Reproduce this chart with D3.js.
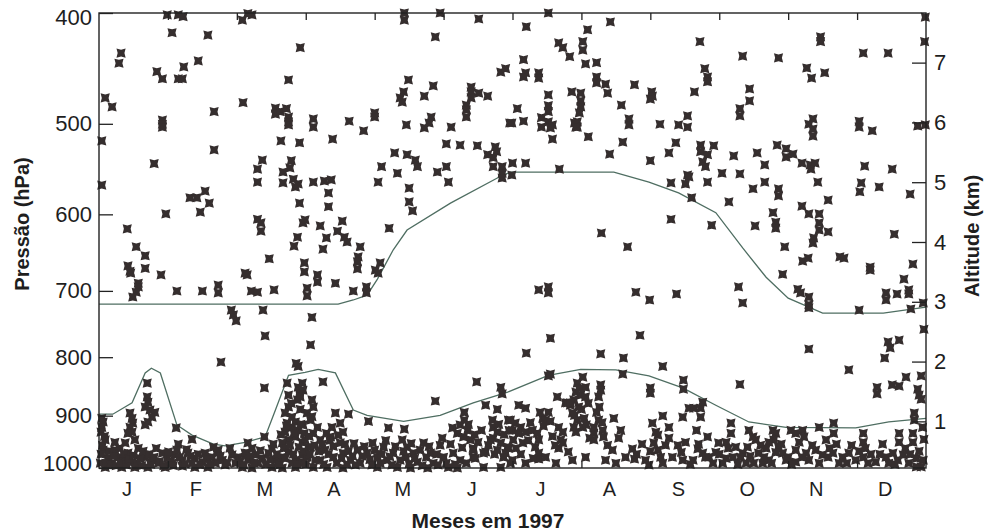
<!DOCTYPE html>
<html>
<head>
<meta charset="utf-8">
<title>Pressão x meses 1997</title>
<style>
  body { margin: 0; background: #fff; }
  svg { display: block; }
  .tick text { font-family: "Liberation Sans", Arial, sans-serif; fill: #1e1e1e; }
  .titulo { font-family: "Liberation Sans", Arial, sans-serif; font-weight: bold; fill: #1e1e1e; }
</style>
</head>
<body>
<div class="grafico"></div>
<script src="https://cdn.jsdelivr.net/npm/d3@7"></script>
<script>
// meses (eixo x em meses decorridos desde 1 jan 1997)
const meses = ["J", "F", "M", "A", "M", "J", "J", "A", "S", "O", "N", "D"];
const ticksPressao = [400, 500, 600, 700, 800, 900, 1000];
const ticksAltitude = [1, 2, 3, 4, 5, 6, 7];

// linhas: [mes, altitude km]
const linhaSuperior = [
  [0, 2.96], [3.47, 2.96], [3.69, 3.03], [3.89, 3.11], [4.04, 3.38], [4.27, 3.87], [4.47, 4.20],
  [5.10, 4.65], [5.78, 5.07], [5.97, 5.17], [7.47, 5.17], [7.98, 5.00], [8.41, 4.82], [8.95, 4.49],
  [9.34, 3.90], [9.68, 3.41], [10.00, 3.06], [10.50, 2.81], [11.38, 2.81], [12, 2.91]
];
const linhaInferior = [
  [0, 1.12], [0.20, 1.12], [0.48, 1.31], [0.67, 1.81], [0.76, 1.89], [0.89, 1.81], [1.13, 0.94],
  [1.35, 0.77], [1.66, 0.62], [1.83, 0.59], [2.12, 0.65], [2.41, 0.74], [2.56, 1.19], [2.75, 1.77],
  [2.99, 1.82], [3.18, 1.87], [3.43, 1.81], [3.69, 1.19], [3.89, 1.10], [4.42, 1.00], [4.95, 1.10],
  [5.43, 1.31], [5.93, 1.49], [6.52, 1.77], [6.99, 1.87], [7.50, 1.86], [7.98, 1.76], [8.47, 1.56],
  [8.95, 1.27], [9.43, 0.99], [9.97, 0.90], [10.98, 0.89], [11.46, 0.99], [12, 1.05]
];

// sondagens: [mes, altitude km]
const pontosSuperiores = [
  [0.99,7.80],[1.15,7.80],[1.22,7.77],[2.08,7.71],[2.22,7.80],[2.16,7.82],[1.06,7.50],[1.58,7.46],[0.32,7.16],[0.29,6.99],
  [1.44,7.03],[1.23,6.93],[0.84,6.85],[0.92,6.73],[1.15,6.73],[1.21,6.73],[2.92,7.25],[2.75,6.71],[0.09,6.41],[0.19,6.26],
  [2.09,6.33],[1.67,6.18],[2.56,6.24],[2.56,6.14],[2.63,6.18],[2.72,6.23],[2.75,6.09],[2.75,6.01],[2.75,5.96],[0.92,6.04],
  [0.92,5.97],[0.92,5.92],[0.04,5.69],[2.64,5.69],[2.91,5.66],[1.67,5.54],[2.37,5.37],[2.79,5.36],[2.77,5.24],[2.30,5.22],
  [2.67,5.17],[0.80,5.31],[2.30,5.00],[2.67,4.99],[2.82,5.05],[2.85,4.92],[2.89,4.97],[0.04,4.95],[1.54,4.85],[1.32,4.74],
  [1.42,4.74],[1.60,4.65],[2.91,4.65],[1.47,4.50],[0.97,4.47],[2.30,4.38],[2.35,4.32],[2.35,4.18],[2.96,4.32],[0.41,4.22],
  [2.88,4.08],[2.83,3.93],[0.54,3.92],
  [0.67,3.77],[0.42,3.60],[0.45,3.51],[0.46,3.48],[0.67,3.56],[0.90,3.45],[0.57,3.31],[0.57,3.25],[0.54,3.16],[0.49,3.08],
  [1.13,3.18],[1.50,3.18],[1.73,3.28],[1.73,3.15],[2.12,3.48],[2.15,3.45],[2.21,3.18],[2.30,3.16],[2.47,3.72],[2.54,3.20],
  [2.98,3.65],[2.98,3.50],[1.92,2.86],[1.95,2.78],[1.99,2.68],[2.38,2.86],[2.41,2.43],[1.77,1.99],[2.40,1.56],[2.89,1.92],[2.86,1.97],
  [4.43,7.83],[4.43,7.71],[4.95,7.83],[5.51,7.73],[4.88,7.43],[5.83,6.84],[5.90,6.90],[4.49,6.71],[4.85,6.61],[4.42,6.51],
  [4.37,6.41],[4.40,6.34],[4.72,6.44],[5.40,6.59],[5.40,6.51],[5.40,6.41],[5.51,6.49],[5.64,6.44],[5.33,6.29],[5.33,6.21],
  [5.33,6.09],[3.11,6.06],[3.11,5.92],[3.63,6.02],[4.00,6.16],[4.00,6.09],[3.84,5.86],[4.46,5.96],[4.82,6.09],[4.79,5.99],
  [4.72,5.91],[5.11,5.92],[5.96,5.99],[3.39,5.72],[5.04,5.64],[5.24,5.62],[5.49,5.61],[5.75,5.59],[5.77,5.51],[5.64,5.46],
  [5.72,5.41],[5.72,5.26],[5.85,5.26],[5.85,5.15],[5.85,5.07],[4.29,5.49],[4.47,5.46],[4.59,5.37],[4.62,5.26],[4.10,5.26],
  [4.33,5.15],[4.91,5.17],[5.04,5.26],[5.07,5.00],[4.05,5.00],[3.11,5.00],[3.27,5.02],[3.37,5.04],[3.33,4.82],[4.50,4.90],
  [3.33,4.59],[4.50,4.67],[4.55,4.52],[2.99,4.37],[3.21,4.27],[3.53,4.35],[3.46,4.18],[3.56,4.08],[3.60,4.00],[3.30,4.07],
  [3.79,3.92],[4.21,4.23],[3.25,3.88],
  [3.76,3.75],[3.75,3.67],[3.75,3.55],[4.08,3.65],[4.01,3.53],[4.05,3.48],[3.17,3.45],[3.17,3.33],[3.43,3.31],[3.69,3.18],
  [3.88,3.25],[3.88,3.15],[3.02,3.23],[3.02,3.10],[3.09,2.74],[3.07,2.28],[3.25,1.66],[5.48,1.66],[4.88,1.34],
  [6.52,7.83],[7.42,7.68],[6.20,7.60],[7.09,7.55],[6.67,7.33],[6.73,7.25],[7.02,7.35],[7.02,7.21],[6.83,7.10],[8.72,7.35],
  [6.16,7.05],[7.06,6.98],[7.22,7.00],[6.19,6.83],[6.16,6.76],[6.38,6.83],[6.38,6.74],[7.22,6.76],[7.22,6.66],[7.35,6.64],
  [7.38,6.49],[7.77,6.63],[8.79,6.90],[8.83,6.76],[8.83,6.68],[8.64,6.51],[8.02,6.51],[8.03,6.44],[8.00,6.39],[6.86,6.51],
  [6.99,6.49],[6.99,6.36],[6.99,6.26],[6.97,6.16],[6.94,6.01],[6.94,5.92],[6.52,6.46],[6.52,6.28],[6.52,6.18],[7.58,6.29],
  [6.07,6.23],[5.99,5.99],[6.16,6.02],[6.42,6.08],[6.42,5.92],[6.52,6.01],[6.58,5.96],[6.55,5.91],[6.90,5.99],[6.92,5.92],
  [6.58,5.72],[7.10,5.76],[7.69,6.06],[7.69,5.96],[8.14,5.97],[8.41,5.96],[8.54,5.92],[8.54,6.11],[7.60,5.67],[8.37,5.66],
  [8.27,5.49],[7.41,5.47],[8.73,5.62],[8.73,5.51],[8.83,5.46],[8.92,5.61],[8.76,5.34],[8.80,5.26],[8.00,5.36],[6.00,5.32],
  [6.19,5.32],[5.99,5.12],[6.68,5.22],[8.54,5.12],[8.56,5.09],[8.30,4.99],[8.51,4.97],[8.83,5.00],[8.60,4.74],[8.30,4.38],
  [8.89,4.28],[7.29,4.15],[7.67,3.92],
  [6.38,3.20],[6.52,3.25],[6.52,3.15],[7.79,3.16],[7.99,3.03],[8.38,3.13],[6.55,2.39],[7.85,2.44],[6.20,2.14],[7.28,2.13],
  [7.61,2.06],[8.18,1.92],[7.60,1.79],[6.52,1.76],[6.55,1.79],[8.48,1.69],[8.48,1.54],[8.00,1.56],[8.00,1.47],
  [11.99,7.76],[11.98,7.35],[10.47,7.43],[10.47,7.35],[9.34,7.11],[9.86,7.08],[11.09,7.16],[11.45,7.16],[10.27,6.91],[10.34,6.74],
  [10.53,6.83],[9.44,6.56],[9.44,6.36],[9.30,6.23],[9.30,6.11],[10.36,6.06],[10.30,5.97],[10.36,5.89],[10.36,5.77],[11.03,6.02],
  [11.03,5.92],[11.22,5.86],[11.88,5.94],[11.99,5.96],[9.84,5.62],[9.97,5.56],[9.97,5.42],[10.07,5.47],[9.21,5.44],[9.55,5.49],
  [10.20,5.32],[10.32,5.29],[10.33,5.22],[10.39,5.32],[9.66,5.29],[9.04,5.15],[9.30,5.14],[11.11,5.27],[11.51,5.22],[9.66,5.00],
  [10.43,5.00],[9.49,4.89],[9.86,4.89],[9.86,4.77],[11.06,4.99],[11.04,4.84],[11.32,4.92],[11.77,4.80],[9.14,4.67],[10.58,4.70],
  [10.20,4.60],[9.78,4.49],[10.30,4.47],[10.45,4.47],[9.82,4.33],[9.82,4.23],[9.52,4.27],[10.45,4.32],[10.45,4.20],[10.37,4.07],
  [10.36,3.98],[10.58,4.17],[11.54,4.13],[9.95,3.92],
  [10.21,3.68],[10.29,3.73],[10.75,3.75],[10.81,3.73],[11.19,3.58],[11.19,3.53],[11.81,3.63],[9.92,3.46],[11.68,3.38],[9.28,3.25],
  [9.34,2.98],[10.14,3.21],[10.18,3.15],[10.30,3.08],[10.30,2.95],[10.30,2.90],[11.42,3.15],[11.42,3.03],[11.58,3.13],[11.75,3.20],
  [11.75,3.13],[11.96,2.98],[11.03,2.86],[11.78,2.88],[11.97,2.54],[11.45,2.33],[11.48,2.23],[11.61,2.36],[11.40,2.06],[10.30,2.21],
  [10.88,1.86],[11.71,1.74],[11.93,1.76],[11.51,1.61],[11.61,1.59],[11.29,1.57],[11.29,1.46],[11.88,1.54],[11.90,1.44],[11.93,1.37],
  [9.30,1.62],[11.83,1.14],[11.83,1.02]
];

const pontosCamadaLimite = [
  [0.70,1.64],[0.70,1.41],[0.71,1.32],[0.67,1.24],[0.74,1.19],[0.81,1.15],[0.77,1.07],[0.71,0.99],[0.67,0.94],[0.45,1.14],
  [0.48,1.05],[0.49,0.97],[0.45,0.90],[0.48,0.82],[0.42,0.80],[0.06,0.99],[0.04,0.90],[0.03,0.82],[1.12,0.89],[1.35,0.70],
  [1.15,0.62],[2.73,1.64],[2.89,1.57],[2.91,1.47],[2.88,1.36],[2.75,1.44],[2.75,1.24],[2.70,1.14],[2.80,1.07],[2.85,0.99],
  [2.73,0.97],[2.80,0.90],[2.89,0.85],[2.70,0.82],[2.85,0.74],[2.75,0.69],[2.66,0.64],[2.95,0.65],[2.51,0.54],[2.16,0.64],
  [2.22,0.55],[2.15,0.47],[2.40,0.74],
  [5.83,1.57],[5.85,1.46],[5.61,1.27],[5.78,1.20],[5.30,1.15],[5.30,1.02],[3.91,1.00],[4.20,0.89],[4.43,0.87],[3.62,1.12],
  [3.43,1.14],[3.50,0.97],[3.38,0.90],[3.54,0.82],[2.95,1.64],[2.96,1.52],[2.92,1.41],[3.09,1.36],[3.11,1.24],[3.02,1.14],
  [3.07,1.02],[2.96,0.94],[3.11,0.80],[2.99,0.69],[3.04,0.57],[3.02,0.42],[5.13,0.89],[5.24,0.94],[5.35,0.85],[5.29,0.74],
  [5.20,0.80],[5.39,0.69],[5.43,0.55],[5.61,0.49],[5.43,0.40],[5.71,1.02],[5.72,0.90],[5.78,0.82],[5.72,0.72],[5.83,0.64],[5.94,1.02],
  [7.02,1.74],[6.94,1.64],[7.06,1.57],[6.92,1.49],[6.99,1.44],[7.06,1.41],[6.89,1.36],[6.84,1.27],[6.96,1.24],[6.77,1.31],
  [6.87,1.14],[6.94,1.02],[6.89,0.90],[7.02,0.90],[6.92,0.82],[7.28,1.61],[7.28,1.52],[7.25,1.41],[7.26,1.24],[7.25,1.02],
  [7.18,0.80],[7.18,0.69],[6.65,1.41],[6.80,1.31],[6.84,1.31],[6.09,1.27],[6.19,1.22],[6.52,1.15],[6.44,1.05],[6.48,1.02],
  [5.97,1.02],[6.04,0.97],[6.12,0.90],[6.00,0.85],[6.09,0.80],[6.19,0.82],[6.01,0.69],[6.15,0.64],[5.94,0.55],[5.90,0.47],
  [6.29,0.85],[6.36,0.80],[6.38,0.69],[6.33,0.57],[6.38,0.47],[6.38,0.37],[6.67,0.90],[6.73,0.82],[6.70,0.69],[6.67,0.55],
  [6.81,0.49],[6.73,0.64],[7.07,0.94],[7.18,0.90],[7.31,0.85],[7.32,0.74],[7.38,0.60],[7.45,0.52],[7.57,0.85],[7.54,0.72],
  [7.47,1.05],[7.74,0.54],[7.77,0.37],[8.03,0.97],[8.08,0.82],[8.11,0.77],[8.05,0.64],[8.11,0.52],[8.18,1.09],[8.27,0.90],
  [8.27,0.72],[8.40,0.60],[8.51,0.65],[8.47,1.07],[8.47,0.35],[8.56,1.22],[8.63,1.22],[8.73,1.22],[8.76,1.32],[8.73,1.07],
  [8.67,0.85],[8.83,0.74],[8.69,0.54],[8.76,0.47],[8.80,0.40],[7.98,0.27],
  [9.17,0.97],[9.17,0.80],[9.43,0.85],[9.49,0.74],[9.53,0.69],[9.41,0.57],[9.57,0.47],[9.34,0.47],[9.24,0.57],[8.99,0.64],
  [9.10,0.65],[9.78,0.85],[9.82,0.80],[9.79,0.69],[9.72,0.65],[9.68,0.55],[9.86,0.57],[9.92,0.47],[9.97,0.35],[10.04,0.85],
  [10.21,0.85],[10.23,0.74],[10.11,0.80],[10.45,0.90],[10.66,0.97],[10.66,0.80],[10.55,0.69],[11.09,0.80],[11.09,0.65],[11.61,0.80],
  [11.61,0.65],[11.81,0.80],[11.81,0.65],
  [5.36,0.95],[5.45,0.78],[5.50,0.65],[5.55,0.85],[5.65,0.60],[5.74,0.45],[5.80,0.95],[5.88,0.78],[5.95,0.85],[6.05,0.55],
  [6.12,0.45],[6.23,0.68],[6.26,0.98],[6.30,0.38],[6.40,1.15],[6.45,0.92],[6.55,1.00],[6.58,0.75],[6.62,0.60],[6.90,1.10],
  [6.97,1.55],[7.00,1.20],[7.04,1.05],[7.10,1.30],[7.12,0.72],[7.22,1.15],[7.30,0.98]
];

const pontosSuperficie = [
  [0.06,0.52],[0.13,0.38],[0.28,0.40],[0.35,0.35],[0.42,0.47],[0.57,0.55],[0.67,0.40],[0.77,0.35],[0.92,0.47],[0.99,0.38],
  [1.10,0.44],[1.21,0.35],[1.29,0.47],[1.39,0.38],[1.50,0.32],[1.64,0.40],[1.73,0.52],[1.79,0.35],[1.93,0.44],[2.02,0.40],
  [2.16,0.35],[2.27,0.44],[2.37,0.38],[2.46,0.47],[2.56,0.35],[2.66,0.40],[2.75,0.49],[2.85,0.35],[2.95,0.44],
  [0.09,0.23],[0.33,0.23],[0.52,0.23],[0.71,0.23],[0.96,0.23],[1.21,0.25],[1.39,0.23],[1.58,0.23],[1.83,0.27],[2.08,0.23],
  [2.22,0.22],[2.51,0.23],[2.66,0.22],[2.85,0.23],
  [0.09,0.69],[0.23,0.65],[0.38,0.64],[0.52,0.69],[0.23,0.52],[0.19,0.30],[0.48,0.32],[0.86,0.30],[1.06,0.30],[1.35,0.30],
  [1.54,0.47],[1.69,0.30],[1.98,0.30],[2.12,0.47],[2.31,0.30],[2.60,0.30],[2.80,0.30],[2.92,0.32],[1.66,0.57],[1.71,0.47],
  [3.21,0.69],[3.36,0.74],[3.50,0.64],[3.28,0.52],[3.40,0.40],[3.21,0.35],[3.54,0.47],[3.65,0.35],[3.75,0.52],[3.79,0.30],
  [3.89,0.47],[3.97,0.64],[4.04,0.40],[4.13,0.57],[4.18,0.35],[4.27,0.47],[4.33,0.23],[4.40,0.69],[4.47,0.57],[4.45,0.40],
  [4.56,0.47],[4.62,0.32],[4.71,0.64],[4.81,0.47],[4.85,0.30],[4.95,0.60],[5.00,0.40],[5.07,0.23],[5.14,0.47],[5.24,0.35],
  [5.43,0.52],[5.46,0.38],[5.58,0.47],[5.68,0.69],[5.78,0.52],[5.87,0.40],[5.93,0.57],[5.83,0.23],[3.07,0.57],[3.02,0.40],
  [2.96,0.30],[3.11,0.23],[3.31,0.23],[3.54,0.22],[4.04,0.23],[4.52,0.22],[4.77,0.22],[5.20,0.22],[5.58,0.23],[5.97,0.30],
  [6.00,0.35],[6.19,0.30],[6.48,0.40],[6.63,0.30],[6.87,0.35],[7.06,0.40],[7.35,0.35],[7.50,0.30],[7.64,0.40],[7.93,0.35],
  [8.18,0.30],[8.32,0.40],[8.62,0.35],[8.85,0.40],[8.91,0.30],
  [10.11,0.52],[10.26,0.47],[10.40,0.52],[10.50,0.44],[10.30,0.35],[10.11,0.32],[10.65,0.47],[10.79,0.40],[10.74,0.30],[10.88,0.47],
  [10.98,0.35],[11.09,0.40],[11.16,0.30],[11.27,0.32],[11.42,0.40],[11.52,0.47],[11.59,0.35],[11.67,0.44],[11.75,0.30],[11.86,0.38],
  [11.96,0.35],[11.93,0.24],[11.86,0.24],[11.46,0.30],[9.31,0.40],[9.10,0.38],[9.39,0.30],[9.63,0.30],[9.72,0.35]
];

// faixa densa junto a superficie (mais sondagens sobrepostas)
const pontosSuperficieDensa = [
  [0.02,0.30],[0.03,0.45],[0.05,0.60],[0.08,0.75],[0.04,1.05],[0.10,0.30],[0.15,0.50],[0.17,0.28],[0.21,0.42],[0.25,0.26],
  [0.30,0.55],[0.31,0.31],[0.36,0.46],[0.40,0.27],[0.44,0.37],[0.50,0.43],[0.55,0.30],[0.60,0.38],[0.62,0.26],[0.64,0.50],
  [0.73,0.45],[0.75,0.28],[0.80,0.40],[0.83,0.55],[0.88,0.33],[0.94,0.26],[1.01,0.49],[1.04,0.33],[1.08,0.26],[1.13,0.52],
  [1.17,0.40],[1.25,0.29],[1.27,0.53],[1.33,0.42],[1.44,0.45],[1.47,0.27],[1.56,0.37],[1.61,0.28],[1.76,0.42],[1.86,0.31],
  [1.90,0.55],[2.05,0.34],[2.10,0.27],[2.19,0.41],[2.25,0.30],[2.34,0.51],[2.42,0.28],[2.48,0.36],[2.53,0.62],[2.58,0.45],
  [2.62,0.27],[2.64,0.78],[2.68,0.55],[2.70,0.38],[2.72,0.92],[2.77,0.60],[2.79,1.30],[2.82,0.45],[2.83,0.80],[2.87,0.28],
  [2.90,0.57],[2.92,1.20],[2.93,0.95],[2.97,0.50],[2.98,0.80],[3.00,0.28],[3.05,0.75],[3.06,0.45],[3.09,1.08],[3.13,0.60],
  [3.14,0.35],[3.17,0.90],[3.19,0.50],[3.24,0.62],[3.26,0.28],[3.30,0.80],[3.33,0.45],[3.35,0.68],[3.40,0.58],[3.45,0.30],
  [3.47,0.77],[3.52,0.38],[3.57,0.62],[3.60,0.28],[3.62,0.50],[3.68,0.42],[3.70,0.63],[3.72,0.27],[3.82,0.42],[3.85,0.58],
  [3.93,0.36],[3.96,0.27],[4.00,0.52],[4.08,0.30],[4.10,0.45],[4.16,0.68],[4.22,0.41],[4.25,0.27],[4.30,0.58],[4.37,0.35],
  [4.42,0.50],[4.50,0.29],[4.53,0.63],[4.58,0.38],[4.66,0.52],[4.69,0.26],[4.75,0.40],[4.79,0.58],[4.90,0.45],[4.92,0.27],
  [4.98,0.72],[5.04,0.30],[5.10,0.62],[5.17,0.28],[5.27,0.56],[5.33,0.30],
  [7.80,0.45],[7.88,0.62],[8.00,0.50],[8.15,0.40],[8.22,0.60],[8.45,0.48],[8.58,0.28],[8.70,0.62],[8.95,0.48],
  [9.00,0.45],[9.05,0.30],[9.13,0.55],[9.20,0.40],[9.27,0.28],[9.45,0.42],[9.50,0.30],[9.60,0.60],[9.65,0.40],[9.76,0.30],
  [9.82,0.48],[9.90,0.62],[10.00,0.40],[10.05,0.28],[10.16,0.65],[10.20,0.40],[10.35,0.60],[10.45,0.30],[10.58,0.40],[10.60,0.55],
  [10.70,0.62],[10.85,0.30],[10.92,0.60],[11.03,0.50],[11.12,0.55],[11.20,0.45],[11.33,0.45],[11.37,0.62],[11.55,0.28],[11.70,0.55],
  [11.77,0.45],[11.90,0.50],[11.97,0.70],[11.95,0.90]
];

window.onload = function(){
  desenhaGrafico();
}

function desenhaGrafico(){
  let width = 985;
  let height = 531;
  let plot = {"left": 99, "right": 926, "top": 13, "bottom": 468};
  let cor = "#222";
  let corLinha = "#4f6e62";
  let corPonto = "#352e2e";

  let svg = d3.select(".grafico").append("svg")
    .attr("width", width)
    .attr("height", height);

  // escalas
  let scaleX = d3.scaleLinear().domain([0, 12]).range([plot.left, plot.right]);
  let scaleP = d3.scaleLog().domain([400, 1000]).range([plot.top, plot.bottom]);
  let scaleZ = d3.scaleLinear().domain([0.22, 7.83]).range([plot.bottom, plot.top]);

  // linhas
  let linha = d3.line()
    .x(d => scaleX(d[0]))
    .y(d => scaleZ(d[1]));
  [linhaSuperior, linhaInferior].forEach(dados => {
    svg.append("path")
      .datum(dados)
      .attr("d", linha)
      .attr("fill", "none")
      .attr("stroke", corLinha)
      .attr("stroke-width", 1.3);
  });

  // simbolo das sondagens (x cheio)
  let simboloX = {
    draw(ctx, size) {
      let a = Math.sqrt(size) / 2;
      let b = a * 0.74;
      ctx.moveTo(-a, -a);
      ctx.lineTo(0, -b);
      ctx.lineTo(a, -a);
      ctx.lineTo(b, 0);
      ctx.lineTo(a, a);
      ctx.lineTo(0, b);
      ctx.lineTo(-a, a);
      ctx.lineTo(-b, 0);
      ctx.closePath();
    }
  };
  let simbolo = d3.symbol().type(simboloX).size(84);

  let todos = pontosSuperiores.concat(pontosCamadaLimite, pontosSuperficie, pontosSuperficieDensa);
  svg.append("g")
    .selectAll("path")
    .data(todos)
    .enter()
    .append("path")
    .attr("d", simbolo)
    .attr("transform", d => "translate(" + scaleX(d[0]) + "," + scaleZ(d[1]) + ")")
    .attr("fill", corPonto);

  // moldura
  svg.append("rect")
    .attr("x", plot.left)
    .attr("y", plot.top)
    .attr("width", plot.right - plot.left)
    .attr("height", plot.bottom - plot.top)
    .attr("fill", "none")
    .attr("stroke", cor)
    .attr("stroke-width", 1.4);

  // eixo pressao (esquerda)
  let eixoP = d3.axisLeft(scaleP)
    .tickValues(ticksPressao)
    .tickFormat(d3.format("d"))
    .tickSize(-14)
    .tickPadding(7);
  let gP = svg.append("g")
    .attr("transform", "translate(" + plot.left + ",0)")
    .call(eixoP);
  gP.selectAll("text").style("font-size", "22px")
    .attr("dy", d => d == 400 ? "0.5em" : (d == 1000 ? "0.1em" : "0.32em"));

  // eixo altitude (direita)
  let eixoZ = d3.axisRight(scaleZ)
    .tickValues(ticksAltitude)
    .tickFormat(d3.format("d"))
    .tickSize(-14)
    .tickPadding(8);
  let gZ = svg.append("g")
    .attr("transform", "translate(" + plot.right + ",0)")
    .call(eixoZ);
  gZ.selectAll("text").style("font-size", "22px");

  // marcas dos meses (baixo e cima)
  let limites = d3.range(1, 12);
  svg.append("g")
    .attr("transform", "translate(0," + plot.bottom + ")")
    .call(d3.axisBottom(scaleX).tickValues(limites).tickSize(-7).tickFormat(""));
  svg.append("g")
    .attr("transform", "translate(0," + plot.top + ")")
    .call(d3.axisTop(scaleX).tickValues(limites).tickSize(-7).tickFormat(""));

  let eixoMeses = d3.axisBottom(scaleX)
    .tickValues(d3.range(12).map(i => i + 0.4))
    .tickFormat((d, i) => meses[i])
    .tickSize(0)
    .tickPadding(14);
  let gM = svg.append("g")
    .attr("transform", "translate(0," + plot.bottom + ")")
    .call(eixoMeses);
  gM.selectAll("text").style("font-size", "20px");

  svg.selectAll(".domain").remove();
  svg.selectAll(".tick line").attr("stroke", cor).attr("stroke-width", 1.3);

  // titulos
  svg.append("text")
    .attr("class", "titulo")
    .attr("transform", "translate(29,224) rotate(-90)")
    .attr("text-anchor", "middle")
    .style("font-size", "20px")
    .text("Pressão (hPa)");
  svg.append("text")
    .attr("class", "titulo")
    .attr("transform", "translate(979,236) rotate(-90)")
    .attr("text-anchor", "middle")
    .style("font-size", "20px")
    .text("Altitude (km)");
  svg.append("text")
    .attr("class", "titulo")
    .attr("x", 488)
    .attr("y", 528)
    .attr("text-anchor", "middle")
    .style("font-size", "21px")
    .text("Meses em 1997");
}
</script>
</body>
</html>
